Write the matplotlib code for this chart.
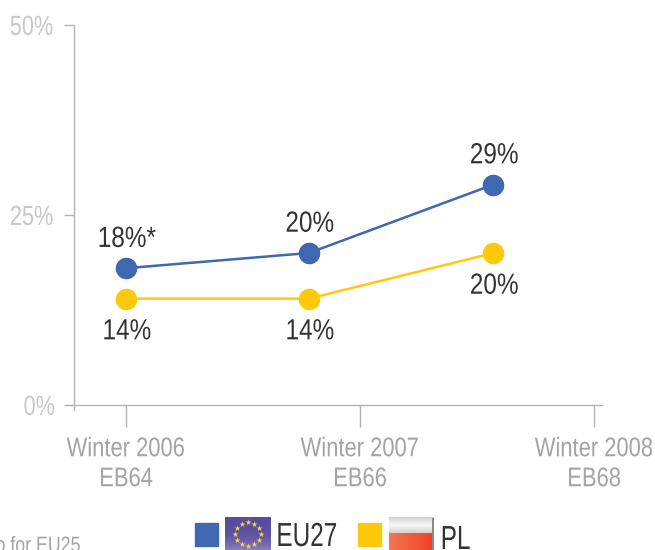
import numpy as np
import matplotlib
matplotlib.use('Agg')
import matplotlib.pyplot as plt
from matplotlib.patches import Rectangle
from matplotlib.patheffects import AbstractPathEffect
from matplotlib.transforms import Affine2D

plt.rcParams['font.family'] = ['Liberation Sans', 'DejaVu Sans']

W, H = 655, 550

waves = ['Winter 2006\nEB64', 'Winter 2007\nEB66', 'Winter 2008\nEB68']
wave_pos = [0, 1, 2]
point_pos = [0, 0.782, 1.57]
y_ticks = [0, 25, 50]
eu27 = [18, 20, 29]
pl = [14, 14, 20]
eu27_labels = ['18%*', '20%', '29%']
pl_labels = ['14%', '14%', '20%']

BLUE = '#3f68b0'
YELLOW = '#ffc90b'
GREY = '#b3b3b3'
DARK = '#333333'


class Narrow(AbstractPathEffect):
    # no condensed font installed, so squeeze each text line about its centre
    def __init__(self, scale=0.85):
        super().__init__()
        self.scale = scale

    def draw_path(self, renderer, gc, tpath, affine, rgbFace=None):
        ext = tpath.get_extents()
        cx = (ext.x0 + ext.x1) / 2
        squeeze = Affine2D().translate(-cx, 0).scale(self.scale, 1).translate(cx, 0)
        renderer.draw_path(gc, tpath, squeeze + affine, rgbFace)


def fig_axes(fig, x0, y0, x1, y1):
    # pixel box (y from the top) to a figure axes
    return fig.add_axes([x0 / W, 1 - y1 / H, (x1 - x0) / W, (y1 - y0) / H])


fig = plt.figure(figsize=(W / 100, H / 100), dpi=100)
ax = fig_axes(fig, 74, 25, 602, 405)
ax.set_xlim(-0.222, 2.034)
ax.set_ylim(0, 50)

for side in ['top', 'right']:
    ax.spines[side].set_visible(False)
for side in ['left', 'bottom']:
    ax.spines[side].set_color(GREY)
    ax.spines[side].set_linewidth(1.0)
ax.spines['left'].set_bounds(-0.7, 50)

ax.set_xticks(wave_pos)
ax.set_xticklabels(waves, fontsize=19.5, color='#a3a3a3', linespacing=1.2)
ax.set_yticks(y_ticks)
ax.set_yticklabels([f'{v}%' for v in y_ticks], fontsize=20, color='#c8c8c8')
ax.tick_params(axis='x', length=15.5, width=1.0, color=GREY, pad=7)
ax.tick_params(axis='y', length=7.5, width=1.0, color=GREY, pad=3)
for t in ax.get_xticklabels():
    t.set_path_effects([Narrow(0.81)])
for t in ax.get_yticklabels():
    t.set_path_effects([Narrow(0.78)])
    t.set_y(t.get_position()[1])

ax.plot(point_pos, pl, color=YELLOW, lw=1.8, marker='o', ms=14.5, clip_on=False)
ax.plot(point_pos, eu27, color=BLUE, lw=1.8, marker='o', ms=14.5, clip_on=False)

for x, v, s in zip(point_pos, eu27, eu27_labels):
    ax.annotate(s, (x, v), xytext=(0.5, 11), textcoords='offset points',
                ha='center', va='bottom', fontsize=21, color=DARK,
                path_effects=[Narrow(0.835)])
for x, v, s in zip(point_pos, pl, pl_labels):
    ax.annotate(s, (x, v), xytext=(0.5, -13.5), textcoords='offset points',
                ha='center', va='top', fontsize=21, color=DARK,
                path_effects=[Narrow(0.835)])

# legend
fig.patches.append(Rectangle((195 / W, 1 - 546 / H), 23 / W, 23 / H, color=BLUE,
                             transform=fig.transFigure))
fig.patches.append(Rectangle((358 / W, 1 - 546 / H), 23 / W, 23 / H, color=YELLOW,
                             transform=fig.transFigure))
fig.text(265 / W, 1 - 546 / H, 'EU27', fontsize=24, color=DARK, va='baseline',
         path_effects=[Narrow(0.73)])
fig.text(435 / W, 1 - 549 / H, 'PL', fontsize=24, color=DARK, va='baseline',
         path_effects=[Narrow(0.73)])

# EU flag
flag = fig_axes(fig, 225, 517, 271, 551)
grad = np.linspace(0, 1, 40)[:, None]
eu_top = np.array([0.35, 0.30, 0.62])
eu_bot = np.array([0.56, 0.51, 0.76])
flag.imshow((eu_top + (eu_bot - eu_top) * grad[:, :, None] ** 3), aspect='auto',
            extent=[-1.3, 1.3, -1, 1])
ang = np.linspace(0, 2 * np.pi, 12, endpoint=False)
flag.scatter(0.71 * np.cos(ang), 0.68 * np.sin(ang), marker='*', s=20,
             color='#f7d83c', linewidths=0)
flag.set_xlim(-1.3, 1.3)
flag.set_ylim(-1, 1)
flag.axis('off')

# PL flag
flag = fig_axes(fig, 389, 517, 433, 551)
img = np.ones((34, 44, 3))
img[:16] = np.array([0.97, 0.97, 0.97]) - 0.14 * np.abs(np.linspace(-1, 1, 16))[:, None, None]
x_fade = np.linspace(0, 1, 44)[None, :, None]
img[16:] = np.array([0.96, 0.47, 0.32]) * (1 - x_fade) + np.array([0.93, 0.25, 0.15]) * x_fade
img[:, -2:] = [0.55, 0.55, 0.55]
img[0] = [0.8, 0.8, 0.8]
flag.imshow(img, aspect='auto')
flag.axis('off')

# footnote cut by the bottom edge
fig.text(91 / W, 1 - 552 / H, 'o for EU25', fontsize=16, color='#a3a3a3',
         ha='right', va='baseline', path_effects=[Narrow(0.8)])

fig.savefig('out.png', dpi=100)
